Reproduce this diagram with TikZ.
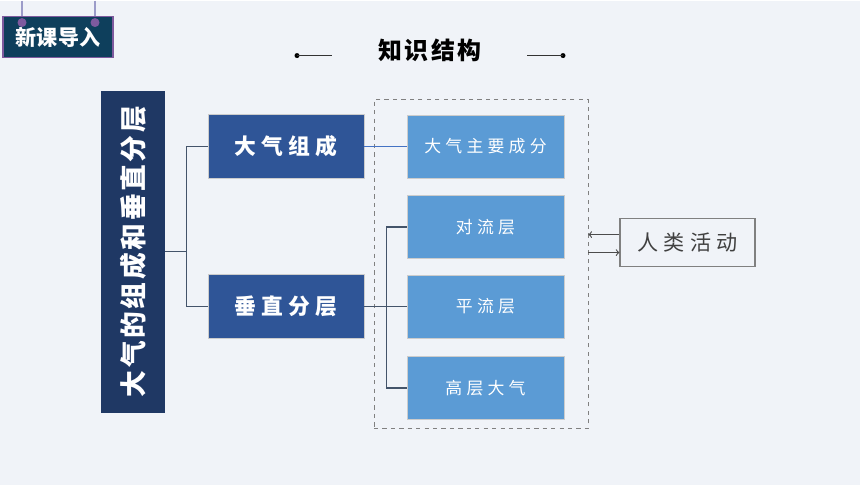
\documentclass[tikz,border=0pt]{standalone}
\usepackage{fontspec}
\newfontfamily\cjk{Noto Sans CJK SC}
\newfontfamily\cjksp[LetterSpace=25]{Noto Sans CJK SC}
\newfontfamily\cjkth[LetterSpace=10]{Noto Sans CJK SC}
\definecolor{bgcol}{HTML}{F0F3F8}
\definecolor{tagcol}{HTML}{0E3F5C}
\definecolor{pincol}{HTML}{7E5A9E}
\definecolor{barcol}{HTML}{1F3864}
\definecolor{darkbox}{HTML}{2F5597}
\definecolor{lightbox}{HTML}{5B9BD5}
\definecolor{linkcol}{HTML}{44546A}
\definecolor{bluelink}{HTML}{4472C4}
\begin{document}
\begin{tikzpicture}[x=0.025cm,y=-0.025cm,
    every node/.style={inner sep=0pt},
    main/.style={draw=gray!40,fill=darkbox,text=white,minimum width=3.9cm,
      minimum height=1.6cm,font=\cjksp\bfseries\fontsize{15.5}{18}\selectfont},
    part/.style={draw=gray!40,fill=lightbox,text=white,minimum width=3.925cm,
      minimum height=1.58cm,font=\cjksp\fontsize{12}{14}\selectfont},
    link/.style={draw=linkcol,line width=1pt},
    arr/.style={->,draw=black!70,line width=0.8pt}]
  \fill[bgcol] (0,0) rectangle (860,484);
  % tag at the corner
  \draw[blue!30!gray!60,line width=0.8pt] (22,0) -- (22,20) (95,0) -- (95,20);
  \node[draw=pincol,line width=0.8pt,fill=tagcol,text=white,minimum width=2.75cm,
    minimum height=1.025cm,font=\cjk\bfseries\fontsize{15}{18}\selectfont]
    (tag) at (58,36.5) {新课导入};
  \fill[pincol] (22,22) circle (4.5) (95,22) circle (4.5);
  % title
  \node[font=\cjkth\bfseries\fontsize{17}{20}\selectfont] (title) at (430,50) {知识结构};
  \fill (297,55) circle (2.5) (563,55) circle (2.5);
  \draw[black!80] (297,55) -- (332,55) (527,55) -- (563,55);
  % left bar
  \node[fill=barcol,minimum width=1.6cm,minimum height=8.05cm] (bar) at (133,251) {};
  \node[rotate=90,text=white,font=\cjkth\bfseries\fontsize{19}{22}\selectfont]
    at (bar) {大气的组成和垂直分层};
  \node[main] (zc) at (286,146) {大气组成};
  \node[main] (cz) at (286,306) {垂直分层};
  % dashed frame
  \node[draw=gray,dashed,line width=0.5pt,minimum width=5.35cm,
    minimum height=8.225cm] (frame) at (481,263.5) {};
  \node[part] (cf) at (485.5,146) {大气主要成分};
  \node[part] (dl) at (485.5,226.5) {对流层};
  \node[part] (pl) at (485.5,306) {平流层};
  \node[part] (gc) at (485.5,387.5) {高层大气};
  \node[draw=gray,line width=0.8pt,minimum width=3.375cm,minimum height=1.2cm,
    text=black!75,font=\cjksp\fontsize{15}{18}\selectfont] (rl) at (687.5,242) {人类活动};
  % links
  \draw[link] (bar.east) -- ++(21,0) coordinate (j1) |- (zc.west);
  \draw[link] (j1) |- (cz.west);
  \draw[draw=bluelink,line width=1pt] (zc.east) -- (cf.west);
  \draw[link] (cz.east) -- ++(22,0) coordinate (j2) -- (pl.west);
  \draw[link] (j2) |- (dl.west);
  \draw[link] (j2) |- (gc.west);
  \draw[arr] (rl.west |- 0,234) -- (frame.east |- 0,234);
  \draw[arr] (frame.east |- 0,252) -- (rl.west |- 0,252);
\end{tikzpicture}
\end{document}
